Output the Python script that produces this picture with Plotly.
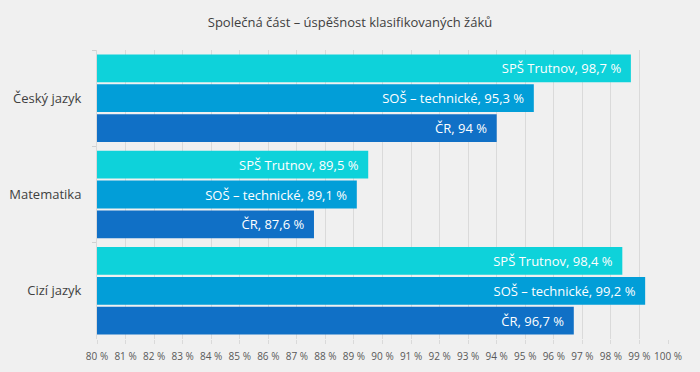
import plotly.graph_objects as go

categories = ["Český jazyk", "Matematika", "Cizí jazyk"]
series_names = ["SPŠ Trutnov", "SOŠ – technické", "ČR"]
sps_trutnov = [98.7, 89.5, 98.4]
sos_technicke = [95.3, 89.1, 99.2]
cr = [94.0, 87.6, 96.7]
tick_values = list(range(80, 101))
tick_labels = [f"{v} %" for v in tick_values]

colors = ["#0ED2DA", "#029ED8", "#1070C6"]
series_values = [sps_trutnov, sos_technicke, cr]
FONT = "Open Sans"


def fmt(v):
    return ("%g" % v).replace(".", ",")


fig = go.Figure()
for name, vals, col in zip(series_names, series_values, colors):
    fig.add_trace(go.Bar(
        y=categories, x=vals, base=0, orientation="h", name=name,
        marker=dict(color=col, line=dict(width=0)),
        text=[f"{name}, {fmt(v)} %\u00a0\u00a0" for v in vals],
        textposition="inside", insidetextanchor="end",
        textfont=dict(color="white", size=13, family=FONT),
        hoverinfo="skip",
    ))

fig.update_layout(
    width=700, height=372,
    barmode="group", bargap=0.07, bargroupgap=0.07,
    paper_bgcolor="#F0F0F0", plot_bgcolor="#F0F0F0",
    margin=dict(l=97, r=32, t=50, b=33, autoexpand=False),
    showlegend=False,
    title=dict(text="Společná část – úspěšnost klasifikovaných žáků",
               x=0.5, xanchor="center", y=0.94, yanchor="middle",
               font=dict(size=13, color="#404040", family=FONT)),
    font=dict(family=FONT, color="#404040"),
    uniformtext=dict(minsize=13, mode="show"),
)
fig.update_xaxes(range=[80, 100], tickvals=tick_values, ticktext=tick_labels,
                 showgrid=True, gridcolor="#DADADA", gridwidth=1,
                 ticks="outside", ticklen=4, tickcolor="#DADADA",
                 ticklabelstandoff=4,
                 tickfont=dict(size=10, color="#595959", family=FONT),
                 zeroline=False, showline=False, fixedrange=True, automargin=False)
fig.update_yaxes(autorange="reversed", ticks="outside", tickson="boundaries",
                 ticklen=4, tickcolor="#D0D0D0", showline=True, linecolor="#D9D9D9",
                 ticklabelstandoff=12,
                 tickfont=dict(size=13, color="#404040", family=FONT), showgrid=False,
                 automargin=False, fixedrange=True)

fig.write_html("out.html", config={"displayModeBar": False, "staticPlot": True},
               post_script="document.body.style.margin='0';document.body.style.background='#F0F0F0';")
